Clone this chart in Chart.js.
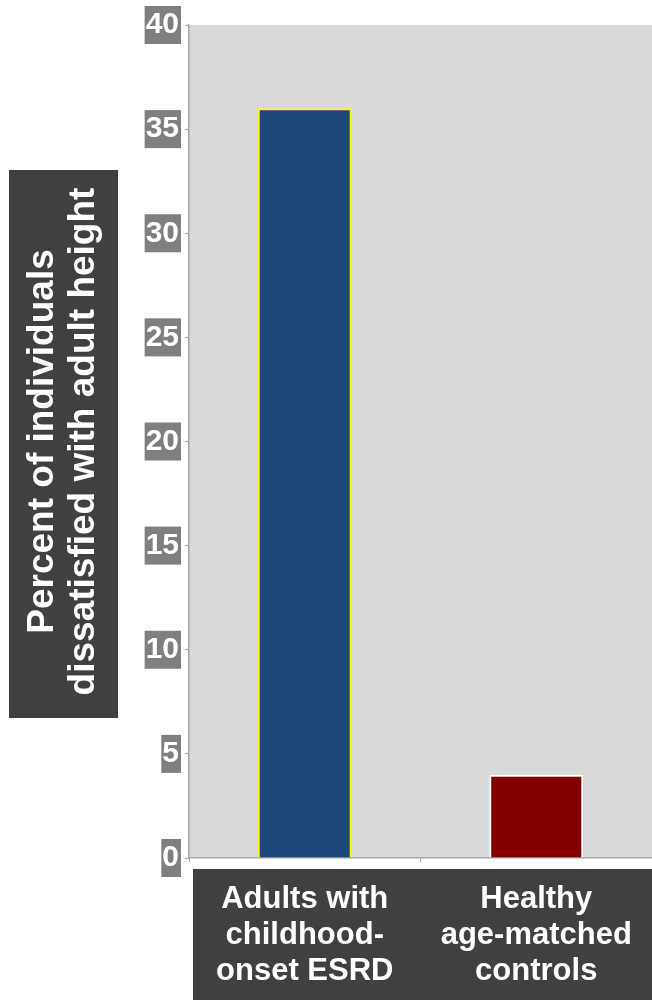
<!DOCTYPE html>
<html>
<head>
<meta charset="utf-8">
<script src="https://cdn.jsdelivr.net/npm/chart.js@4"></script>
<style>
  html, body { margin: 0; padding: 0; background: #ffffff; }
  #wrap { width: 652px; height: 1000px; position: relative; }
</style>
</head>
<body>
<div id="wrap"><canvas id="c" width="652" height="1000"></canvas></div>
<script>
// ---- data ----
const categories = [
  ['Adults with', 'childhood-', 'onset ESRD'],
  ['Healthy', 'age-matched', 'controls']
];
const values = [36, 4];
const barColors = ['#1f4678', '#800000'];
const barBorders = ['#ffff00', '#ffffff'];
const yTitle = ['Percent of individuals', 'dissatisfied with adult height'];
const yMin = 0, yMax = 40, yStep = 5;

Chart.defaults.font.family = "'Liberation Sans', Arial, sans-serif";
Chart.defaults.font.weight = 'bold';

const boxesPlugin = {
  id: 'boxes',
  beforeDraw(chart) {
    const ctx = chart.ctx;
    const a = chart.chartArea;
    ctx.save();
    // plot background
    ctx.fillStyle = '#d9d9d9';
    ctx.fillRect(a.left, a.top, a.right - a.left, a.bottom - a.top);
    // y title box
    ctx.fillStyle = '#404040';
    ctx.fillRect(9, 170, 109, 548);
    // x label box
    ctx.fillRect(a.left + 4, a.bottom + 11, chart.width - a.left - 4, chart.height - a.bottom - 11);
    ctx.restore();
  }
};

new Chart(document.getElementById('c'), {
  type: 'bar',
  data: {
    labels: categories,
    datasets: [{
      data: values,
      backgroundColor: barColors,
      borderColor: barBorders,
      borderWidth: 2,
      barPercentage: 0.406,
      categoryPercentage: 1.0
    }]
  },
  options: {
    responsive: false,
    animation: false,
    layout: { padding: { top: 25, right: 0, left: 0, bottom: 0 } },
    plugins: { legend: { display: false }, tooltip: { enabled: false } },
    scales: {
      x: {
        grid: { display: true, drawOnChartArea: false, drawTicks: true, tickLength: 4, color: '#a6a6a6', offset: true },
        border: { display: true, color: '#a6a6a6', width: 1.5 },
        ticks: {
          color: '#ffffff',
          font: { size: 31, weight: 'bold', lineHeight: 1.17 },
          padding: 19,
          maxRotation: 0, minRotation: 0, autoSkip: false
        },
        afterFit(scale) { scale.height = 142; }
      },
      y: {
        min: yMin, max: yMax,
        grid: { display: true, drawOnChartArea: false, drawTicks: true, tickLength: 4, color: '#a6a6a6' },
        border: { display: true, color: '#a6a6a6', width: 1.5 },
        ticks: {
          stepSize: yStep,
          color: '#ffffff',
          font: { size: 30, weight: 'bold', lineHeight: 1.2 },
          padding: 6,
          showLabelBackdrop: true,
          backdropColor: '#7f7f7f',
          backdropPadding: { left: 1, right: 2, top: 1, bottom: 1 }
        },
        title: {
          display: true,
          text: yTitle,
          color: '#ffffff',
          font: { size: 37, weight: 'bold', lineHeight: 1.11 },
          padding: { top: 22, bottom: 0 }
        },
        afterFit(scale) { scale.width = 189; }
      }
    }
  },
  plugins: [boxesPlugin]
});
</script>
</body>
</html>
